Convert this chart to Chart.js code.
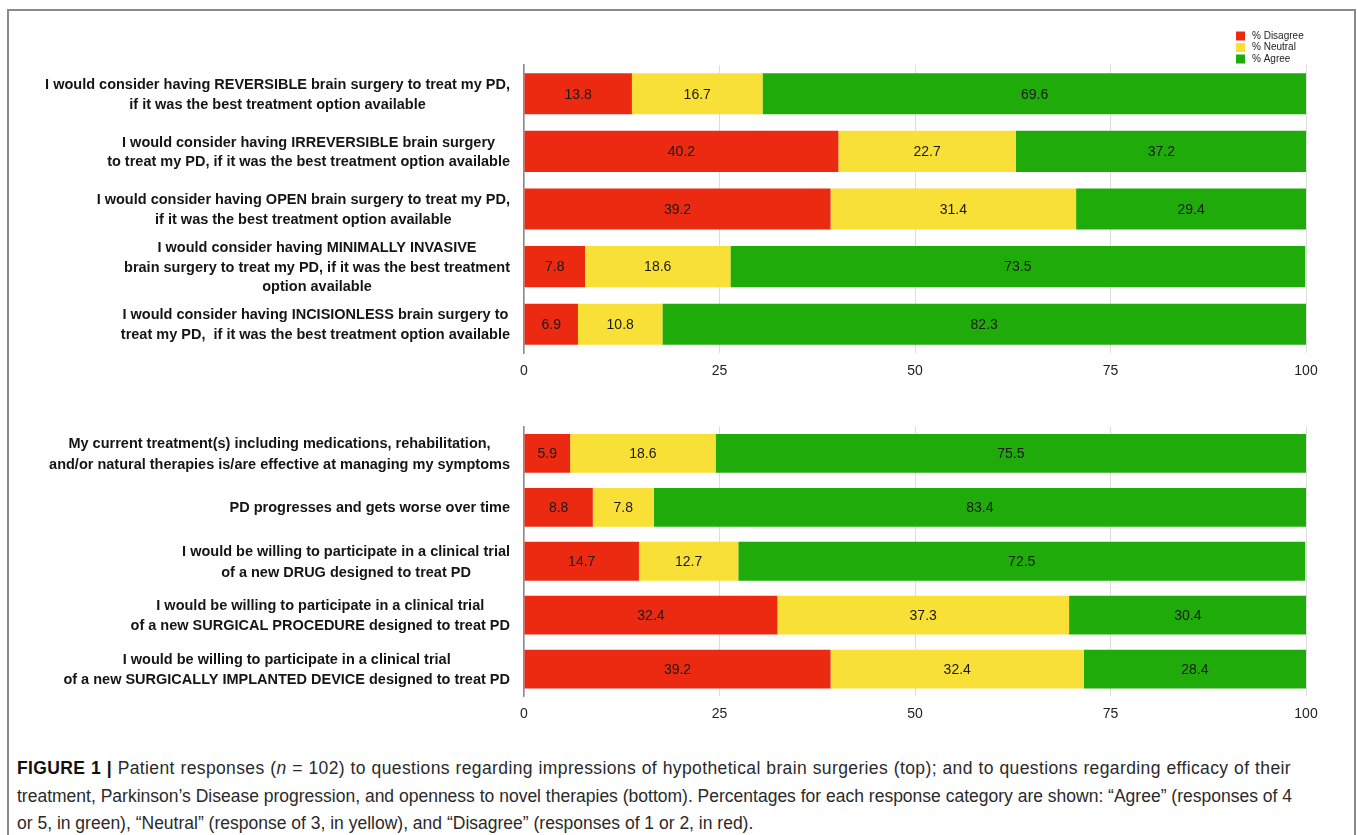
<!DOCTYPE html>
<html>
<head>
<meta charset="utf-8">
<script src="https://cdn.jsdelivr.net/npm/chart.js@4.4.1/dist/chart.umd.min.js"></script>
<style>
  html, body { margin: 0; padding: 0; background: #fff; }
  body { width: 1357px; height: 835px; position: relative; overflow: hidden;
         font-family: "Liberation Sans", Arial, Helvetica, sans-serif; }
  .frame { position: absolute; left: 7px; top: 9px; width: 1349px; height: 840px;
           border: 2px solid #8a8a8a; box-sizing: border-box; }
  .panel { position: absolute; left: 0; width: 1357px; }
  #topWrap { top: 0; height: 400px; }
  #bottomWrap { top: 400px; height: 330px; }
  .caption { position: absolute; left: 17px; top: 755px; width: 1274px;
             font-size: 17.5px; line-height: 27.5px; color: #2a2a2a; }
  .caption div { white-space: nowrap; }
  .caption .full { text-align: justify; text-align-last: justify; }
  .caption .wide { letter-spacing: 0.38px; }
  .caption b { font-weight: bold; color: #111; }
</style>
</head>
<body>
<div class="frame"></div>
<div class="panel" id="topWrap"><canvas id="topChart"></canvas></div>
<div class="panel" id="bottomWrap"><canvas id="bottomChart"></canvas></div>
<div class="caption">
  <div class="full wide"><b>FIGURE 1 |</b> Patient responses (<i>n</i> = 102) to questions regarding impressions of hypothetical brain surgeries (top); and to questions regarding efficacy of their</div>
  <div class="full">treatment, Parkinson’s Disease progression, and openness to novel therapies (bottom). Percentages for each response category are shown: “Agree” (responses of 4</div>
  <div>or 5, in green), “Neutral” (response of 3, in yellow), and “Disagree” (responses of 1 or 2, in red).</div>
</div>

<script>
// Survey statements (multi-line labels) and response percentages
const surgeryQuestions = [
  ["I would consider having REVERSIBLE brain surgery to treat my PD,", "if it was the best treatment option available"],
  ["I would consider having IRREVERSIBLE brain surgery", "to treat my PD, if it was the best treatment option available"],
  ["I would consider having OPEN brain surgery to treat my PD,", "if it was the best treatment option available"],
  ["I would consider having MINIMALLY INVASIVE", "brain surgery to treat my PD, if it was the best treatment", "option available"],
  ["I would consider having INCISIONLESS brain surgery to", "treat my PD,  if it was the best treatment option available"]
];
const surgeryDisagree = [13.8, 40.2, 39.2, 7.8, 6.9];
const surgeryNeutral  = [16.7, 22.7, 31.4, 18.6, 10.8];
const surgeryAgree    = [69.6, 37.2, 29.4, 73.5, 82.3];

const treatmentQuestions = [
  ["My current treatment(s) including medications, rehabilitation,", "and/or natural therapies is/are effective at managing my symptoms"],
  ["PD progresses and gets worse over time"],
  ["I would be willing to participate in a clinical trial", "of a new DRUG designed to treat PD"],
  ["I would be willing to participate in a clinical trial", "of a new SURGICAL PROCEDURE designed to treat PD"],
  ["I would be willing to participate in a clinical trial", "of a new SURGICALLY IMPLANTED DEVICE designed to treat PD"]
];
const treatmentDisagree = [5.9, 8.8, 14.7, 32.4, 39.2];
const treatmentNeutral  = [18.6, 7.8, 12.7, 37.3, 32.4];
const treatmentAgree    = [75.5, 83.4, 72.5, 30.4, 28.4];

const seriesNames = ["% Disagree", "% Neutral", "% Agree"];
const xTicks = [0, 25, 50, 75, 100];

const COLORS = ["#ec2a12", "#f8e036", "#1fac0b"];
const FONT = '"Liberation Sans", Arial, Helvetica, sans-serif';

// Writes each segment's value in the middle of the segment
const valueLabels = {
  id: 'valueLabels',
  afterDatasetsDraw(chart) {
    const ctx = chart.ctx;
    ctx.save();
    ctx.font = '14px ' + FONT;
    ctx.fillStyle = '#1a1a1a';
    ctx.textAlign = 'center';
    ctx.textBaseline = 'middle';
    chart.data.datasets.forEach((ds, di) => {
      chart.getDatasetMeta(di).data.forEach((el, i) => {
        const p = el.getCenterPoint();
        ctx.fillText(ds.data[i].toFixed(1), p.x, p.y + 1);
      });
    });
    ctx.restore();
  }
};

// Category labels: blocks right-aligned next to the axis, lines centred within each block
const blockLabels = {
  id: 'blockLabels',
  afterDraw(chart, args, opts) {
    const ctx = chart.ctx;
    const y = chart.scales.y;
    ctx.save();
    ctx.font = 'bold 14.5px ' + FONT;
    ctx.fillStyle = '#151515';
    ctx.textAlign = 'center';
    ctx.textBaseline = 'middle';
    const right = chart.chartArea.left - 14;
    chart.data.labels.forEach((lines, i) => {
      const w = Math.max(...lines.map(s => ctx.measureText(s).width));
      const cx = right - w / 2;
      const cy = y.getPixelForTick(i);
      const lh = opts.lineHeight;
      lines.forEach((s, k) => {
        ctx.fillText(s, cx, cy + 1 + (k - (lines.length - 1) / 2) * lh);
      });
    });
    ctx.restore();
  }
};

// Small stacked legend in the top-right corner
const cornerLegend = {
  id: 'cornerLegend',
  afterDraw(chart, args, opts) {
    if (!opts.show) return;
    const ctx = chart.ctx;
    const x0 = chart.chartArea.right - 70;
    ctx.save();
    ctx.font = '10px ' + FONT;
    ctx.textBaseline = 'middle';
    chart.data.datasets.forEach((ds, i) => {
      const yy = 36 + i * 11.5;
      ctx.fillStyle = ds.backgroundColor;
      ctx.fillRect(x0, yy - 4.5, 9, 9);
      ctx.fillStyle = '#222';
      ctx.fillText(ds.label, x0 + 16, yy);
    });
    ctx.restore();
  }
};

function makeChart(id, labels, series, pad, barPct, lineHeight, showLegend) {
  return new Chart(document.getElementById(id), {
    type: 'bar',
    data: {
      labels: labels,
      datasets: series.map((d, i) => ({
        label: seriesNames[i],
        data: d,
        backgroundColor: COLORS[i],
        borderWidth: 0,
        barPercentage: barPct,
        categoryPercentage: 1
      }))
    },
    options: {
      indexAxis: 'y',
      responsive: true,
      maintainAspectRatio: false,
      animation: false,
      layout: { padding: pad },
      plugins: {
        legend: { display: false },
        tooltip: { enabled: false },
        blockLabels: { lineHeight: lineHeight },
        cornerLegend: { show: showLegend }
      },
      scales: {
        x: {
          stacked: true,
          min: 0, max: 100,
          afterBuildTicks(scale) { scale.ticks = xTicks.map(v => ({ value: v })); },
          afterFit(scale) { scale.height = 30; },
          grid: { color: '#dcdcdc', lineWidth: 1, drawTicks: false },
          border: { display: false },
          ticks: { font: { size: 14, family: FONT }, color: '#222', padding: 10 }
        },
        y: {
          stacked: true,
          afterFit(scale) { scale.width = 524; },
          grid: { display: false },
          border: { display: true, color: '#8c8c8c', width: 1.5 },
          ticks: { display: false }
        }
      }
    },
    plugins: [valueLabels, blockLabels, cornerLegend]
  });
}

makeChart('topChart', surgeryQuestions,
  [surgeryDisagree, surgeryNeutral, surgeryAgree],
  { top: 65, right: 51, bottom: 17, left: 0 }, 0.713, 19.5, true);

makeChart('bottomChart', treatmentQuestions,
  [treatmentDisagree, treatmentNeutral, treatmentAgree],
  { top: 26.5, right: 51, bottom: 4, left: 0 }, 0.72, 20.5, false);
</script>
</body>
</html>
